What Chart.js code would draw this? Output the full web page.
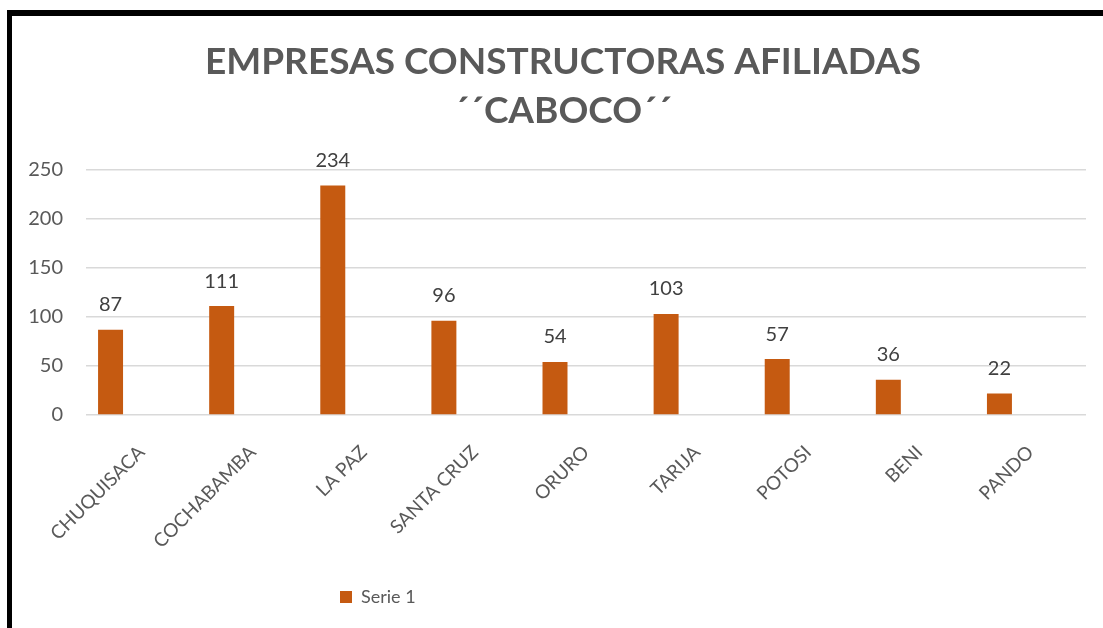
<!DOCTYPE html>
<html lang="es">
<head>
    <meta charset="UTF-8">
    <title>Empresas Constructoras Afiliadas CABOCO</title>
    <style>
        body, html {
            margin: 0;
            padding: 0;
            background: #fff;
            overflow: hidden;
        }
        .chart-box {
            position: absolute;
            left: 0;
            top: 0;
            width: 1103px;
            height: 628px;
        }
        .marco {
            position: absolute;
            left: 7px;
            top: 10px;
            width: 1200px;
            height: 700px;
            border-top: 6px solid #000;
            border-left: 5px solid #000;
            pointer-events: none;
        }
    </style>
</head>
<body>
    <div class="chart-box"><canvas id="grafico"></canvas></div>
    <div class="marco"></div>

    <script src="https://cdn.jsdelivr.net/npm/chart.js"></script>
    <script>
        var departamentos = ['CHUQUISACA', 'COCHABAMBA', 'LA PAZ', 'SANTA CRUZ', 'ORURO', 'TARIJA', 'POTOSI', 'BENI', 'PANDO'];
        var serie1 = [87, 111, 234, 96, 54, 103, 57, 36, 22];
        // series vacias del grafico original (no salen en la leyenda)
        var serie2 = [];
        var serie3 = [];
        var ticksY = [0, 50, 100, 150, 200, 250];
        var titulo = ['EMPRESAS CONSTRUCTORAS AFILIADAS', '\u00B4\u00B4CABOCO\u00B4\u00B4'];

        var gris = '#595959';
        var naranja = '#C55A11';

        // numeros encima de cada barra
        var etiquetas = {
            id: 'etiquetas',
            afterDatasetsDraw: function(chart) {
                var ctx = chart.ctx;
                var meta = chart.getDatasetMeta(0);
                ctx.save();
                ctx.font = '20px Lato';
                ctx.fillStyle = '#404040';
                ctx.textAlign = 'center';
                ctx.textBaseline = 'middle';
                meta.data.forEach(function(bar, i) {
                    ctx.fillText(serie1[i], bar.x, bar.y - 25);
                });
                ctx.restore();
            }
        };

        // leyenda y titulo desplazados como en el original
        var ajuste = {
            id: 'ajuste',
            afterLayout: function(chart) {
                chart.legend.left += 330;
                chart.legend.right += 330;
                chart.titleBlock.left += 20;
                chart.titleBlock.right += 20;
            }
        };

        window.onload = function() {
            var ctx = document.getElementById('grafico').getContext('2d');
            new Chart(ctx, {
                type: 'bar',
                data: {
                    labels: departamentos,
                    datasets: [
                        { label: 'Serie 1', data: serie1, backgroundColor: naranja },
                        { label: 'Serie 2', data: serie2, backgroundColor: '#A5A5A5' },
                        { label: 'Serie 3', data: serie3, backgroundColor: '#FFC000' }
                    ]
                },
                options: {
                    responsive: true,
                    maintainAspectRatio: false,
                    animation: false,
                    categoryPercentage: 0.837,
                    barPercentage: 0.806,
                    layout: { padding: { left: 0, right: 17, top: 0, bottom: 12 } },
                    plugins: {
                        tooltip: { enabled: false },
                        title: {
                            display: true,
                            text: titulo,
                            color: gris,
                            font: { family: 'Lato', size: 37, weight: 'bold', lineHeight: 1.32 },
                            padding: { top: 38, bottom: 34 }
                        },
                        legend: {
                            position: 'bottom',
                            align: 'start',
                            labels: {
                                color: gris,
                                font: { family: 'Lato', size: 18 },
                                boxWidth: 12,
                                boxHeight: 12,
                                padding: 10,
                                filter: function(item) { return item.datasetIndex === 0; }
                            }
                        }
                    },
                    scales: {
                        x: {
                            grid: { display: false },
                            border: { display: false },
                            ticks: {
                                color: gris,
                                font: { family: 'Lato', size: 19 },
                                maxRotation: 45,
                                minRotation: 45,
                                padding: 18
                            },
                            afterFit: function(scale) { scale.height = 163; }
                        },
                        y: {
                            min: 0,
                            max: 250,
                            grid: { color: '#D9D9D9', lineWidth: 1.5, drawTicks: false },
                            border: { display: false },
                            ticks: {
                                color: gris,
                                font: { family: 'Lato', size: 20 },
                                padding: 23
                            },
                            afterBuildTicks: function(scale) {
                                scale.ticks = ticksY.map(function(v) { return { value: v }; });
                            },
                            afterFit: function(scale) { scale.width = 86; }
                        }
                    }
                },
                plugins: [etiquetas, ajuste]
            });
        };
    </script>
</body>
</html>
